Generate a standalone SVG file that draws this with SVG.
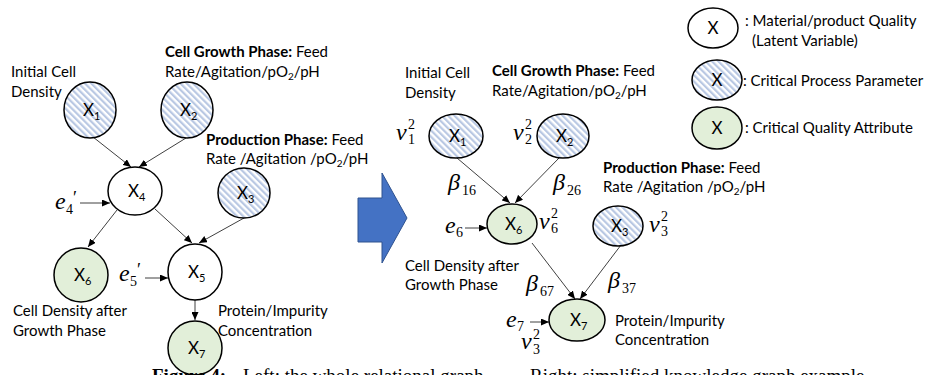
<svg xmlns="http://www.w3.org/2000/svg" width="933" height="375" viewBox="0 0 933 375">
<defs>
<pattern id="hatch" patternUnits="userSpaceOnUse" width="4.5" height="4.5" patternTransform="rotate(-45)">
<rect width="4.5" height="4.5" fill="#ffffff"/>
<rect width="2.2" height="4.5" fill="#b9c8e3"/>
</pattern>
<marker id="ah" markerUnits="userSpaceOnUse" markerWidth="8" markerHeight="7" refX="8" refY="3.5" orient="auto">
<path d="M0,0 L8,3.5 L0,7 z" fill="#000"/>
</marker>
<style>
.lat{fill:#ffffff;stroke:#000;stroke-width:1.5}
.cpp{fill:url(#hatch);stroke:#000;stroke-width:1.5}
.cqa{fill:#e2efd9;stroke:#000;stroke-width:1.5}
.lbl{font-family:Lato,"Liberation Sans",sans-serif;font-size:17px;fill:#000}
.sub{font-size:11px}
.txt{font-family:Lato,"Liberation Sans",sans-serif;font-size:15px;fill:#000}
.b{font-weight:bold}
.m{font-family:"Liberation Serif","DejaVu Serif",serif;font-style:italic;font-size:24px;fill:#000}
.pr{font-family:"Liberation Serif","DejaVu Serif",serif;font-size:18px;fill:#000}
.ms{font-family:"Liberation Serif","DejaVu Serif",serif;font-size:14px;fill:#000}
.con line{stroke:#404040;stroke-width:1;marker-end:url(#ah)}
.cap{font-family:"Liberation Serif",serif;font-size:19px;fill:#000}
</style>
</defs>
<rect width="933" height="375" fill="#ffffff"/>

<!-- connectors -->
<g id="connectors" class="con">
<line x1="93" y1="137" x2="131" y2="167"/>
<line x1="186" y1="138" x2="139" y2="167"/>
<line x1="117" y1="210" x2="88" y2="247"/>
<line x1="155" y1="209" x2="192" y2="243"/>
<line x1="244" y1="218" x2="199" y2="243"/>
<line x1="195" y1="300" x2="195" y2="320"/>
<line x1="80" y1="203" x2="110" y2="203"/>
<line x1="145" y1="278" x2="168" y2="278"/>
<line x1="457" y1="158" x2="510" y2="203"/>
<line x1="560" y1="157" x2="515" y2="203"/>
<line x1="532" y1="243" x2="575" y2="299"/>
<line x1="621" y1="245" x2="580" y2="299"/>
<line x1="465" y1="228" x2="487" y2="228"/>
<line x1="530" y1="322" x2="549" y2="322"/>
</g>

<!-- left diagram nodes -->
<g id="L-X1"><ellipse class="cpp" cx="90" cy="110" rx="26" ry="28"/><text class="lbl" x="83" y="116">X<tspan class="sub" dy="4">1</tspan></text></g>
<g id="L-X2"><ellipse class="cpp" cx="187" cy="110" rx="26" ry="28"/><text class="lbl" x="180" y="116">X<tspan class="sub" dy="4">2</tspan></text></g>
<g id="L-X4"><ellipse class="lat" cx="135" cy="191" rx="27" ry="24"/><text class="lbl" x="128" y="197">X<tspan class="sub" dy="4">4</tspan></text></g>
<g id="L-X3"><ellipse class="cpp" cx="244" cy="193" rx="26" ry="25"/><text class="lbl" x="237" y="199">X<tspan class="sub" dy="4">3</tspan></text></g>
<g id="L-X6"><ellipse class="cqa" cx="81" cy="275" rx="27" ry="27"/><text class="lbl" x="74" y="281">X<tspan class="sub" dy="4">6</tspan></text></g>
<g id="L-X5"><ellipse class="lat" cx="195" cy="272" rx="27" ry="28"/><text class="lbl" x="188" y="278">X<tspan class="sub" dy="4">5</tspan></text></g>
<g id="L-X7"><ellipse class="cqa" cx="195" cy="348" rx="27" ry="27"/><text class="lbl" x="188" y="354">X<tspan class="sub" dy="4">7</tspan></text></g>

<!-- left labels -->
<text class="txt" x="11" y="77">Initial Cell</text>
<text class="txt" x="11" y="97">Density</text>
<text class="txt" x="165" y="57"><tspan class="b">Cell Growth Phase:</tspan> Feed</text>
<text class="txt" x="165" y="77">Rate/Agitation/pO<tspan font-size="10" dy="3">2</tspan><tspan dy="-3">/pH</tspan></text>
<text class="txt" x="206" y="145"><tspan class="b">Production Phase:</tspan> Feed</text>
<text class="txt" x="206" y="164">Rate /Agitation /pO<tspan font-size="10" dy="3">2</tspan><tspan dy="-3">/pH</tspan></text>
<text class="txt" x="13" y="316">Cell Density after</text>
<text class="txt" x="13" y="336">Growth Phase</text>
<text class="txt" x="218" y="316">Protein/Impurity</text>
<text class="txt" x="218" y="336">Concentration</text>
<text class="m" x="55" y="209">e</text><text class="ms" x="66" y="214">4</text><text class="pr" x="73" y="204">′</text>
<text class="m" x="119" y="281">e</text><text class="ms" x="130" y="286">5</text><text class="pr" x="137" y="276">′</text>

<!-- big arrow -->
<g id="bigArrow"><polygon points="358,198 382,198 382,173 407,218 382,263 382,242 358,242" fill="#4472c4" stroke="#2f528f" stroke-width="1"/></g>

<!-- right diagram nodes -->
<g id="R-X1"><ellipse class="cpp" cx="456" cy="136" rx="27" ry="22"/><text class="lbl" x="449" y="142">X<tspan class="sub" dy="4">1</tspan></text></g>
<g id="R-X2"><ellipse class="cpp" cx="563" cy="136" rx="26" ry="22"/><text class="lbl" x="556" y="142">X<tspan class="sub" dy="4">2</tspan></text></g>
<g id="R-X6"><ellipse class="cqa" cx="512" cy="224" rx="25" ry="20"/><text class="lbl" x="505" y="230">X<tspan class="sub" dy="4">6</tspan></text></g>
<g id="R-X3"><ellipse class="cpp" cx="618" cy="226" rx="25" ry="20"/><text class="lbl" x="611" y="232">X<tspan class="sub" dy="4">3</tspan></text></g>
<g id="R-X7"><ellipse class="cqa" cx="577" cy="320" rx="28" ry="21"/><text class="lbl" x="570" y="326">X<tspan class="sub" dy="4">7</tspan></text></g>

<!-- right labels -->
<text class="txt" x="405" y="78">Initial Cell</text>
<text class="txt" x="405" y="98">Density</text>
<text class="txt" x="492" y="76"><tspan class="b">Cell Growth Phase:</tspan> Feed</text>
<text class="txt" x="492" y="96">Rate/Agitation/pO<tspan font-size="10" dy="3">2</tspan><tspan dy="-3">/pH</tspan></text>
<text class="txt" x="603" y="173"><tspan class="b">Production Phase:</tspan> Feed</text>
<text class="txt" x="603" y="192">Rate /Agitation /pO<tspan font-size="10" dy="3">2</tspan><tspan dy="-3">/pH</tspan></text>
<text class="txt" x="405" y="271">Cell Density after</text>
<text class="txt" x="405" y="290">Growth Phase</text>
<text class="txt" x="615" y="326">Protein/Impurity</text>
<text class="txt" x="615" y="345">Concentration</text>

<text class="m" x="396" y="140">v</text><text class="ms" x="408" y="129">2</text><text class="ms" x="408" y="144">1</text>
<text class="m" x="513" y="140">v</text><text class="ms" x="525" y="129">2</text><text class="ms" x="525" y="144">2</text>
<text class="m" x="448" y="190">β</text><text class="ms" x="462" y="195">16</text>
<text class="m" x="553" y="190">β</text><text class="ms" x="567" y="195">26</text>
<text class="m" x="539" y="229">v</text><text class="ms" x="551" y="218">2</text><text class="ms" x="551" y="233">6</text>
<text class="m" x="649" y="232">v</text><text class="ms" x="661" y="221">2</text><text class="ms" x="661" y="236">3</text>
<text class="m" x="526" y="291">β</text><text class="ms" x="540" y="296">67</text>
<text class="m" x="608" y="288">β</text><text class="ms" x="622" y="293">37</text>
<text class="m" x="445" y="233">e</text><text class="ms" x="456" y="237">6</text>
<text class="m" x="506" y="327">e</text><text class="ms" x="517" y="331">7</text>
<text class="m" x="521" y="349">v</text><text class="ms" x="533" y="339">2</text><text class="ms" x="533" y="354">3</text>

<!-- legend -->
<g id="legend-latent"><ellipse class="lat" cx="713" cy="28" rx="25" ry="20"/><text class="lbl" x="713" y="34" text-anchor="middle">X</text>
<text class="txt" x="745" y="26">: Material/product Quality</text>
<text class="txt" x="752" y="46">(Latent Variable)</text></g>
<g id="legend-cpp"><ellipse class="cpp" cx="717" cy="80" rx="25" ry="20"/><text class="lbl" x="717" y="86" text-anchor="middle">X</text>
<text class="txt" x="743" y="86">: Critical Process Parameter</text></g>
<g id="legend-cqa"><ellipse class="cqa" cx="717" cy="128" rx="25" ry="21"/><text class="lbl" x="717" y="134" text-anchor="middle">X</text>
<text class="txt" x="745" y="133">: Critical Quality Attribute</text></g>

<!-- caption (clipped at bottom) -->
<text class="cap" x="152" y="382"><tspan font-weight="bold">Figure 4:</tspan></text>
<text class="cap" x="243" y="382">Left: the whole relational graph.</text>
<text class="cap" x="530" y="382">Right: simplified knowledge graph example.</text>
</svg>
